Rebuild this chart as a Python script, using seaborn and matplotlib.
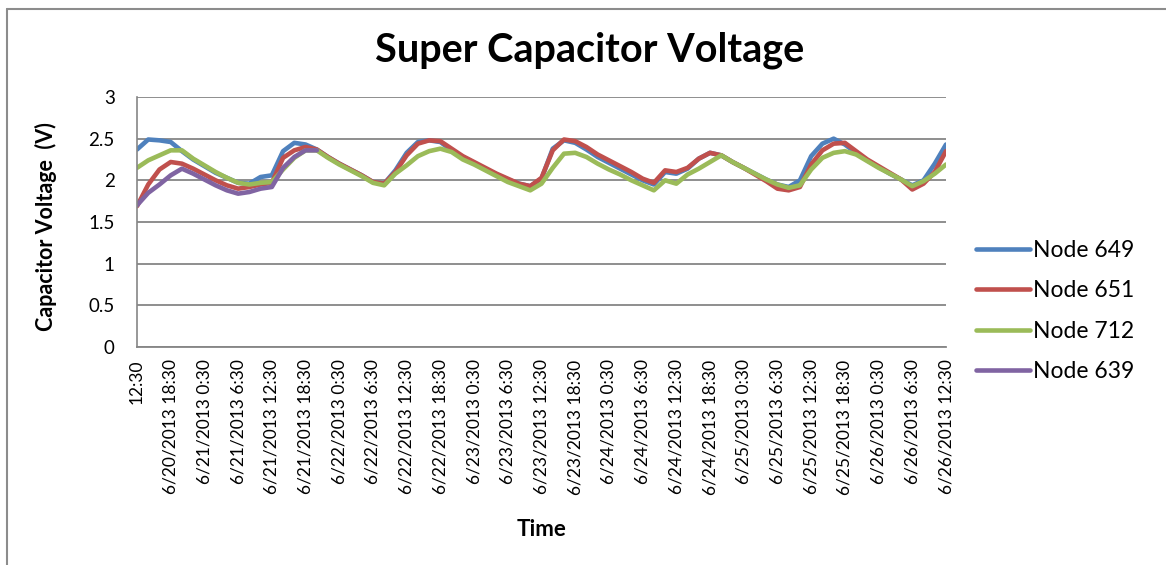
import numpy as np
import pandas as pd
import matplotlib
matplotlib.use('Agg')
import matplotlib.pyplot as plt
from matplotlib.lines import Line2D
import seaborn as sns

# 데이터 (2시간 간격, 6/20/2013 12:30 부터)
hours = list(range(0, 145, 2))

node_649 = [2.37, 2.49, 2.48, 2.46, 2.35, 2.25, 2.17, 2.09, 2.03, 1.97, 1.96, 2.04, 2.06,
            2.35, 2.45, 2.43, 2.37, 2.28, 2.20, 2.13, 2.06, 1.98, 1.96, 2.12, 2.33, 2.46,
            2.48, 2.46, 2.36, 2.28, 2.21, 2.14, 2.07, 2.01, 1.96, 1.93, 2.02, 2.38, 2.48,
            2.45, 2.37, 2.28, 2.21, 2.14, 2.07, 2.00, 1.95, 2.10, 2.08, 2.14, 2.26, 2.33,
            2.30, 2.22, 2.15, 2.08, 2.01, 1.95, 1.92, 2.00, 2.29, 2.44, 2.50, 2.43, 2.33,
            2.24, 2.16, 2.08, 2.01, 1.94, 2.00, 2.20, 2.43]

node_651 = [1.69, 1.95, 2.13, 2.22, 2.20, 2.14, 2.07, 2.00, 1.94, 1.90, 1.92, 1.95, 1.97,
            2.27, 2.36, 2.40, 2.37, 2.28, 2.20, 2.13, 2.06, 1.98, 1.96, 2.10, 2.30, 2.44,
            2.48, 2.47, 2.38, 2.29, 2.22, 2.15, 2.08, 2.02, 1.96, 1.93, 2.03, 2.36, 2.49,
            2.47, 2.40, 2.31, 2.24, 2.17, 2.10, 2.02, 1.97, 2.12, 2.10, 2.15, 2.26, 2.33,
            2.30, 2.22, 2.15, 2.07, 1.99, 1.90, 1.88, 1.92, 2.19, 2.36, 2.44, 2.45, 2.35,
            2.25, 2.17, 2.09, 2.01, 1.89, 1.96, 2.10, 2.35]

node_712 = [2.15, 2.24, 2.30, 2.36, 2.36, 2.26, 2.18, 2.10, 2.03, 1.97, 1.95, 1.97, 1.98,
            2.13, 2.27, 2.36, 2.36, 2.27, 2.19, 2.12, 2.05, 1.97, 1.94, 2.08, 2.18, 2.29,
            2.35, 2.38, 2.34, 2.25, 2.19, 2.12, 2.05, 1.98, 1.93, 1.88, 1.96, 2.15, 2.32,
            2.33, 2.28, 2.20, 2.13, 2.07, 2.00, 1.94, 1.88, 2.00, 1.96, 2.07, 2.14, 2.22,
            2.30, 2.22, 2.15, 2.08, 2.01, 1.95, 1.91, 1.94, 2.13, 2.27, 2.33, 2.35, 2.31,
            2.23, 2.15, 2.08, 2.01, 1.93, 1.99, 2.08, 2.19]

node_639 = [1.70, 1.85, 1.95, 2.06, 2.14, 2.08, 2.01, 1.94, 1.88, 1.84, 1.86, 1.90, 1.92,
            2.15, 2.28, 2.36, 2.36]
node_639 = node_639 + [np.nan] * (len(hours) - len(node_639))

tick_labels = ['12:30',
               '6/20/2013 18:30', '6/21/2013 0:30', '6/21/2013 6:30', '6/21/2013 12:30',
               '6/21/2013 18:30', '6/22/2013 0:30', '6/22/2013 6:30', '6/22/2013 12:30',
               '6/22/2013 18:30', '6/23/2013 0:30', '6/23/2013 6:30', '6/23/2013 12:30',
               '6/23/2013 18:30', '6/24/2013 0:30', '6/24/2013 6:30', '6/24/2013 12:30',
               '6/24/2013 18:30', '6/25/2013 0:30', '6/25/2013 6:30', '6/25/2013 12:30',
               '6/25/2013 18:30', '6/26/2013 0:30', '6/26/2013 6:30', '6/26/2013 12:30']

series = {'Node 649': node_649, 'Node 651': node_651, 'Node 712': node_712, 'Node 639': node_639}
colors = ['#4F81BD', '#C0504D', '#9BBB59', '#8064A2']

df = pd.concat([pd.DataFrame({'hours': hours, 'voltage': v, 'node': k}) for k, v in series.items()])
df = df.dropna()

sns.set_style('white')
plt.rcParams['font.family'] = ['Lato', 'DejaVu Sans']
plt.rcParams['text.color'] = 'black'
plt.rcParams['xtick.color'] = 'black'
plt.rcParams['ytick.color'] = 'black'
plt.rcParams['axes.labelcolor'] = 'black'

fig = plt.figure(figsize=(11.66, 5.65), dpi=100)
ax = fig.add_axes([137/1166, 1 - 347/565, 809/1166, 250/565])

sns.lineplot(data=df, x='hours', y='voltage', hue='node', hue_order=list(series.keys()),
             palette=colors, linewidth=3.3, ax=ax, legend=False)

ax.set_xlim(0, 144)
ax.set_ylim(0, 3)
ax.set_yticks(np.arange(0, 3.01, 0.5))
ax.set_yticklabels(['0', '0.5', '1', '1.5', '2', '2.5', '3'], fontsize=13.5)
ax.set_xticks(range(0, 145, 6))
ax.set_xticklabels(tick_labels, rotation=90, fontsize=12.5)
ax.tick_params(axis='x', length=0, pad=9)
ax.tick_params(axis='y', length=7, width=1.2, color='#868686', pad=9)
ax.grid(axis='y', color='#868686', linewidth=1.3)
ax.set_axisbelow(True)
for s in ['top', 'right']:
    ax.spines[s].set_visible(False)
ax.spines['left'].set_color('#868686')
ax.spines['bottom'].set_color('#868686')
ax.spines['left'].set_linewidth(1.2)
ax.spines['bottom'].set_linewidth(1.3)

ax.set_xlabel('Time', fontsize=16, fontweight='bold')
ax.xaxis.set_label_coords(0.5, -0.69)
ax.set_ylabel('Capacitor Voltage  (V)', fontsize=15.5, fontweight='bold')
ax.yaxis.set_label_coords(-0.099, 0.48)

fig.text(590/1166, 1 - 50/565, 'Super Capacitor Voltage', fontsize=28.5, fontweight='bold',
         ha='center', va='center')

handles = [Line2D([], [], color=c, linewidth=3.3) for c in colors]
fig.legend(handles, list(series.keys()), loc='center left', bbox_to_anchor=(955/1166, 1 - 311/565),
           frameon=False, fontsize=16.5, handlelength=2.36, handletextpad=0.13, labelspacing=0.85)

# 차트 테두리
fig.add_artist(Line2D([7/1166, 1], [1 - 9/565, 1 - 9/565], color='#8c8c8c', linewidth=1.5))
fig.add_artist(Line2D([7/1166, 7/1166], [0, 1 - 9/565], color='#8c8c8c', linewidth=1.5))

fig.savefig('out.png', dpi=100)
